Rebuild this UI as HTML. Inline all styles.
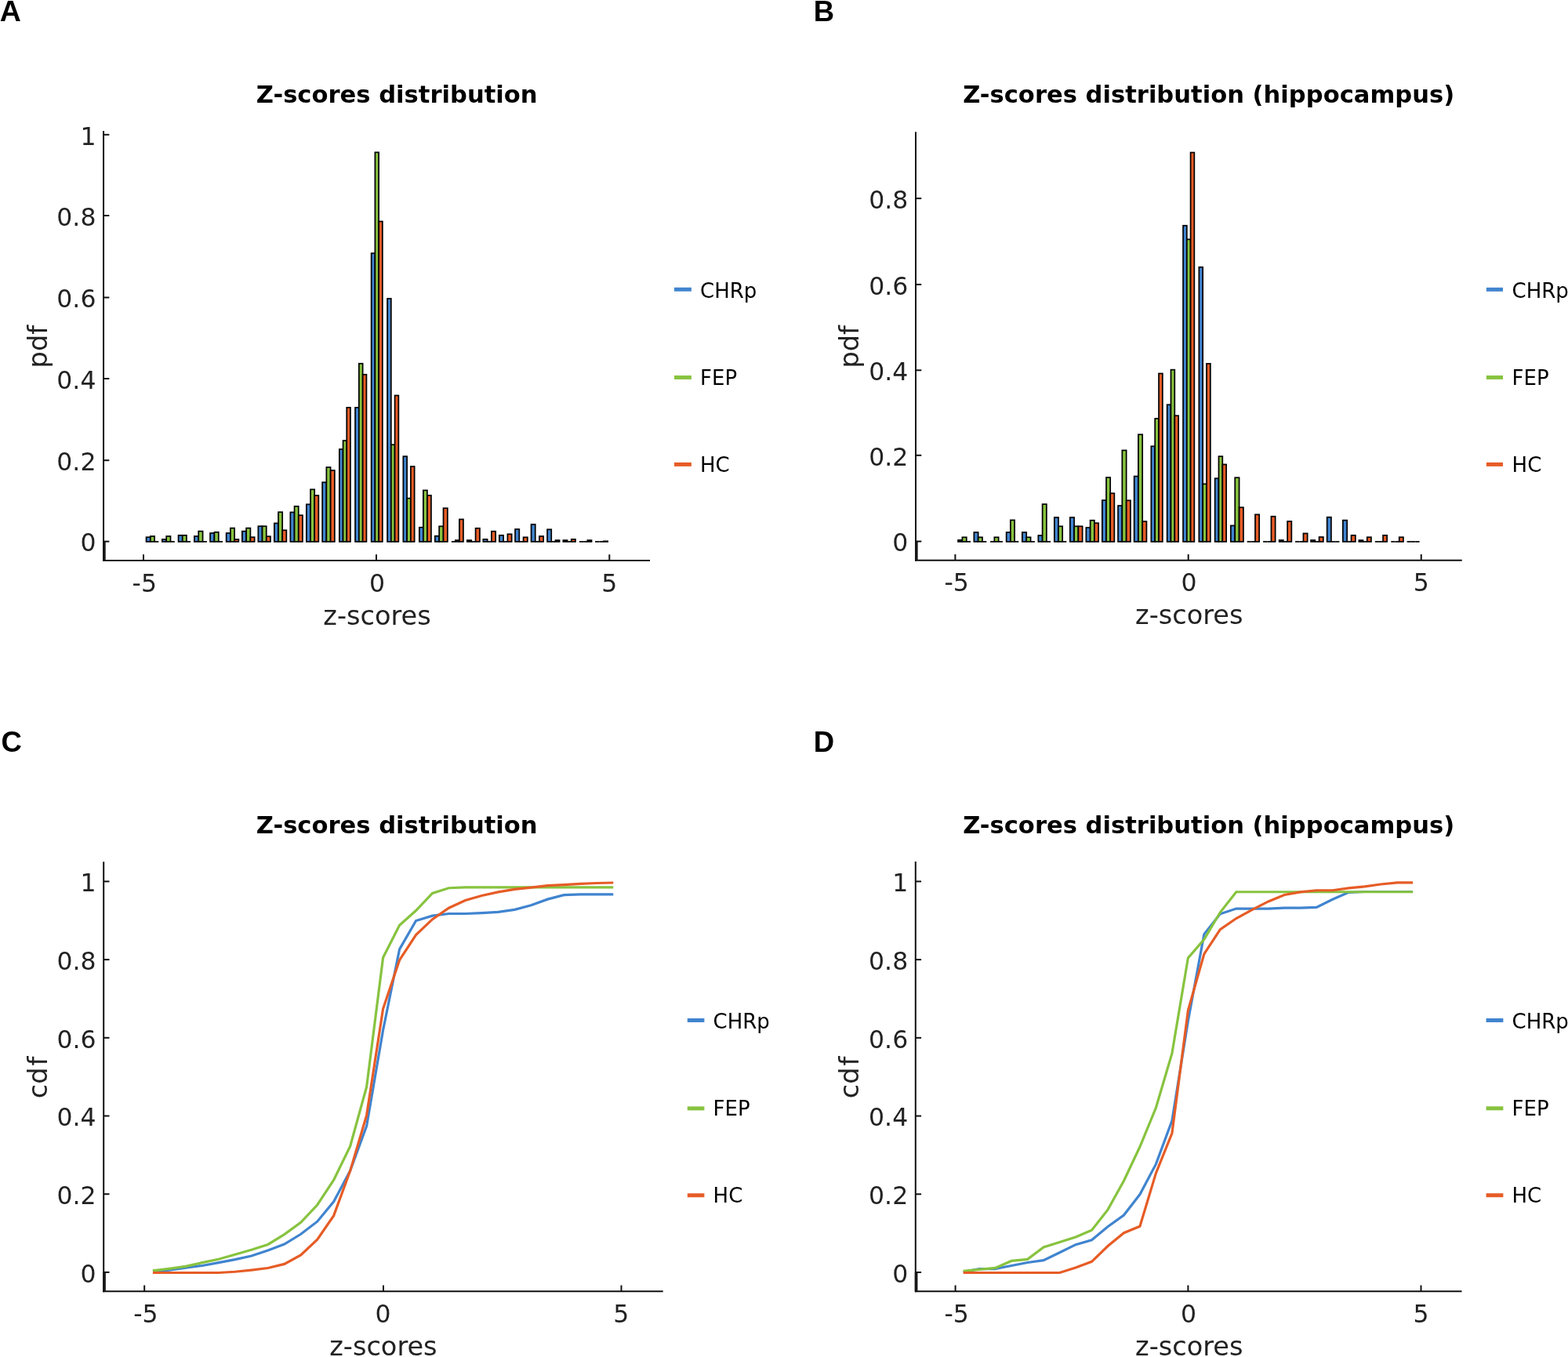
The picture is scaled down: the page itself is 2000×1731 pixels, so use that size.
<!DOCTYPE html>
<html><head><meta charset="utf-8"><title>Z-scores distribution</title>
<style>
html,body{margin:0;padding:0;background:#fff;}
body{width:2000px;height:1731px;overflow:hidden;}
svg{display:block;}
.tk{font-family:"DejaVu Sans",sans-serif;font-size:31.5px;fill:#222222;}
.lb{font-family:"DejaVu Sans",sans-serif;font-size:33.6px;fill:#222222;}
.tt{font-family:"DejaVu Sans",sans-serif;font-size:30.6px;font-weight:bold;fill:#000;}
.lg{font-family:"DejaVu Sans",sans-serif;font-size:26px;fill:#000;}
.pl{font-family:"Liberation Sans",Arial,sans-serif;font-size:36.5px;font-weight:bold;fill:#000;}
</style></head>
<body>
<svg width="2000" height="1731" viewBox="0 0 2000 1731">
<rect width="2000" height="1731" fill="#fff"/>
<text x="-0.3" y="26.9" class="pl" style="font-size:37.5px">A</text>
<text x="506.2" y="130.8" text-anchor="middle" class="tt">Z-scores distribution</text>
<rect x="186.55" y="685.25" width="5.27" height="5.75" fill="#4084cf" stroke="#000" stroke-width="1.7"/>
<rect x="191.82" y="684.05" width="5.27" height="6.95" fill="#87c33f" stroke="#000" stroke-width="1.7"/>
<line x1="197.08" y1="691" x2="202.35" y2="691" stroke="#000" stroke-width="1.7"/>
<rect x="206.85" y="688.05" width="5.33" height="2.95" fill="#4084cf" stroke="#000" stroke-width="1.7"/>
<rect x="212.18" y="684.05" width="5.33" height="6.95" fill="#87c33f" stroke="#000" stroke-width="1.7"/>
<line x1="217.52" y1="691" x2="222.85" y2="691" stroke="#000" stroke-width="1.7"/>
<rect x="227.55" y="682.85" width="5.2" height="8.15" fill="#4084cf" stroke="#000" stroke-width="1.7"/>
<rect x="232.75" y="682.85" width="5.2" height="8.15" fill="#87c33f" stroke="#000" stroke-width="1.7"/>
<line x1="237.95" y1="691" x2="243.15" y2="691" stroke="#000" stroke-width="1.7"/>
<rect x="247.85" y="684.05" width="5.37" height="6.95" fill="#4084cf" stroke="#000" stroke-width="1.7"/>
<rect x="253.22" y="677.65" width="5.37" height="13.35" fill="#87c33f" stroke="#000" stroke-width="1.7"/>
<line x1="258.58" y1="691" x2="263.95" y2="691" stroke="#000" stroke-width="1.7"/>
<rect x="268.05" y="680.05" width="5.37" height="10.95" fill="#4084cf" stroke="#000" stroke-width="1.7"/>
<rect x="273.42" y="678.85" width="5.37" height="12.15" fill="#87c33f" stroke="#000" stroke-width="1.7"/>
<line x1="278.78" y1="691" x2="284.15" y2="691" stroke="#000" stroke-width="1.7"/>
<rect x="288.65" y="680.05" width="5.23" height="10.95" fill="#4084cf" stroke="#000" stroke-width="1.7"/>
<rect x="293.88" y="673.65" width="5.23" height="17.35" fill="#87c33f" stroke="#000" stroke-width="1.7"/>
<rect x="299.12" y="688.05" width="5.23" height="2.95" fill="#e65c26" stroke="#000" stroke-width="1.7"/>
<rect x="308.85" y="677.65" width="5.27" height="13.35" fill="#4084cf" stroke="#000" stroke-width="1.7"/>
<rect x="314.12" y="673.65" width="5.27" height="17.35" fill="#87c33f" stroke="#000" stroke-width="1.7"/>
<rect x="319.38" y="685.25" width="5.27" height="5.75" fill="#e65c26" stroke="#000" stroke-width="1.7"/>
<rect x="329.35" y="671.25" width="5.2" height="19.75" fill="#4084cf" stroke="#000" stroke-width="1.7"/>
<rect x="334.55" y="671.25" width="5.2" height="19.75" fill="#87c33f" stroke="#000" stroke-width="1.7"/>
<rect x="339.75" y="684.25" width="5.2" height="6.75" fill="#e65c26" stroke="#000" stroke-width="1.7"/>
<rect x="349.85" y="667.45" width="5.17" height="23.55" fill="#4084cf" stroke="#000" stroke-width="1.7"/>
<rect x="355.02" y="653.25" width="5.17" height="37.75" fill="#87c33f" stroke="#000" stroke-width="1.7"/>
<rect x="360.18" y="676.35" width="5.17" height="14.65" fill="#e65c26" stroke="#000" stroke-width="1.7"/>
<rect x="370.35" y="653.45" width="5.2" height="37.55" fill="#4084cf" stroke="#000" stroke-width="1.7"/>
<rect x="375.55" y="645.85" width="5.2" height="45.15" fill="#87c33f" stroke="#000" stroke-width="1.7"/>
<rect x="380.75" y="657.25" width="5.2" height="33.75" fill="#e65c26" stroke="#000" stroke-width="1.7"/>
<rect x="390.85" y="643.35" width="5.17" height="47.65" fill="#4084cf" stroke="#000" stroke-width="1.7"/>
<rect x="396.02" y="624.35" width="5.17" height="66.65" fill="#87c33f" stroke="#000" stroke-width="1.7"/>
<rect x="401.18" y="632.05" width="5.17" height="58.95" fill="#e65c26" stroke="#000" stroke-width="1.7"/>
<rect x="411.15" y="615.25" width="5.23" height="75.75" fill="#4084cf" stroke="#000" stroke-width="1.7"/>
<rect x="416.38" y="596.05" width="5.23" height="94.95" fill="#87c33f" stroke="#000" stroke-width="1.7"/>
<rect x="421.62" y="600.05" width="5.23" height="90.95" fill="#e65c26" stroke="#000" stroke-width="1.7"/>
<rect x="432.85" y="573.05" width="4.7" height="117.95" fill="#4084cf" stroke="#000" stroke-width="1.7"/>
<rect x="437.55" y="562.05" width="4.7" height="128.95" fill="#87c33f" stroke="#000" stroke-width="1.7"/>
<rect x="442.25" y="519.85" width="4.7" height="171.15" fill="#e65c26" stroke="#000" stroke-width="1.7"/>
<rect x="453.05" y="519.85" width="4.8" height="171.15" fill="#4084cf" stroke="#000" stroke-width="1.7"/>
<rect x="457.85" y="463.75" width="4.8" height="227.25" fill="#87c33f" stroke="#000" stroke-width="1.7"/>
<rect x="462.65" y="477.75" width="4.8" height="213.25" fill="#e65c26" stroke="#000" stroke-width="1.7"/>
<rect x="473.65" y="323.05" width="4.73" height="367.95" fill="#4084cf" stroke="#000" stroke-width="1.7"/>
<rect x="478.38" y="194.35" width="4.73" height="496.65" fill="#87c33f" stroke="#000" stroke-width="1.7"/>
<rect x="483.12" y="282.45" width="4.73" height="408.55" fill="#e65c26" stroke="#000" stroke-width="1.7"/>
<rect x="494.05" y="380.85" width="4.77" height="310.15" fill="#4084cf" stroke="#000" stroke-width="1.7"/>
<rect x="498.82" y="567.25" width="4.77" height="123.75" fill="#87c33f" stroke="#000" stroke-width="1.7"/>
<rect x="503.58" y="504.45" width="4.77" height="186.55" fill="#e65c26" stroke="#000" stroke-width="1.7"/>
<rect x="514.35" y="582.15" width="4.77" height="108.85" fill="#4084cf" stroke="#000" stroke-width="1.7"/>
<rect x="519.12" y="635.65" width="4.77" height="55.35" fill="#87c33f" stroke="#000" stroke-width="1.7"/>
<rect x="523.88" y="595.05" width="4.77" height="95.95" fill="#e65c26" stroke="#000" stroke-width="1.7"/>
<rect x="534.85" y="672.75" width="5.03" height="18.25" fill="#4084cf" stroke="#000" stroke-width="1.7"/>
<rect x="539.88" y="625.45" width="5.03" height="65.55" fill="#87c33f" stroke="#000" stroke-width="1.7"/>
<rect x="544.92" y="631.95" width="5.03" height="59.05" fill="#e65c26" stroke="#000" stroke-width="1.7"/>
<rect x="554.85" y="683.75" width="5.33" height="7.25" fill="#4084cf" stroke="#000" stroke-width="1.7"/>
<rect x="560.18" y="671.35" width="5.33" height="19.65" fill="#87c33f" stroke="#000" stroke-width="1.7"/>
<rect x="565.52" y="648.25" width="5.33" height="42.75" fill="#e65c26" stroke="#000" stroke-width="1.7"/>
<line x1="575.85" y1="691" x2="580.88" y2="691" stroke="#000" stroke-width="1.7"/>
<rect x="580.88" y="689.15" width="5.03" height="1.85" fill="#87c33f" stroke="#000" stroke-width="1.7"/>
<rect x="585.92" y="662.45" width="5.03" height="28.55" fill="#e65c26" stroke="#000" stroke-width="1.7"/>
<rect x="595.85" y="689.15" width="5.37" height="1.85" fill="#4084cf" stroke="#000" stroke-width="1.7"/>
<line x1="601.22" y1="691" x2="606.58" y2="691" stroke="#000" stroke-width="1.7"/>
<rect x="606.58" y="673.85" width="5.37" height="17.15" fill="#e65c26" stroke="#000" stroke-width="1.7"/>
<rect x="616.35" y="687.95" width="5.27" height="3.05" fill="#4084cf" stroke="#000" stroke-width="1.7"/>
<line x1="621.62" y1="691" x2="626.88" y2="691" stroke="#000" stroke-width="1.7"/>
<rect x="626.88" y="677.75" width="5.27" height="13.25" fill="#e65c26" stroke="#000" stroke-width="1.7"/>
<rect x="636.85" y="682.85" width="5.27" height="8.15" fill="#4084cf" stroke="#000" stroke-width="1.7"/>
<line x1="642.12" y1="691" x2="647.38" y2="691" stroke="#000" stroke-width="1.7"/>
<rect x="647.38" y="681.35" width="5.27" height="9.65" fill="#e65c26" stroke="#000" stroke-width="1.7"/>
<rect x="657.05" y="675.05" width="5.27" height="15.95" fill="#4084cf" stroke="#000" stroke-width="1.7"/>
<line x1="662.32" y1="691" x2="667.58" y2="691" stroke="#000" stroke-width="1.7"/>
<rect x="667.58" y="685.35" width="5.27" height="5.65" fill="#e65c26" stroke="#000" stroke-width="1.7"/>
<rect x="677.55" y="668.95" width="5.2" height="22.05" fill="#4084cf" stroke="#000" stroke-width="1.7"/>
<line x1="682.75" y1="691" x2="687.95" y2="691" stroke="#000" stroke-width="1.7"/>
<rect x="687.95" y="684.05" width="5.2" height="6.95" fill="#e65c26" stroke="#000" stroke-width="1.7"/>
<rect x="698.05" y="675.35" width="5.2" height="15.65" fill="#4084cf" stroke="#000" stroke-width="1.7"/>
<line x1="703.25" y1="691" x2="708.45" y2="691" stroke="#000" stroke-width="1.7"/>
<rect x="708.45" y="689.15" width="5.2" height="1.85" fill="#e65c26" stroke="#000" stroke-width="1.7"/>
<rect x="718.35" y="689.15" width="5.2" height="1.85" fill="#4084cf" stroke="#000" stroke-width="1.7"/>
<line x1="723.55" y1="691" x2="728.75" y2="691" stroke="#000" stroke-width="1.7"/>
<rect x="728.75" y="687.95" width="5.2" height="3.05" fill="#e65c26" stroke="#000" stroke-width="1.7"/>
<line x1="738.85" y1="691" x2="744.08" y2="691" stroke="#000" stroke-width="1.7"/>
<line x1="744.08" y1="691" x2="749.32" y2="691" stroke="#000" stroke-width="1.7"/>
<rect x="749.32" y="689.15" width="5.23" height="1.85" fill="#e65c26" stroke="#000" stroke-width="1.7"/>
<line x1="759.05" y1="691" x2="764.42" y2="691" stroke="#000" stroke-width="1.7"/>
<line x1="764.42" y1="691" x2="769.78" y2="691" stroke="#000" stroke-width="1.7"/>
<rect x="769.78" y="690.35" width="5.37" height="0.65" fill="#e65c26" stroke="#000" stroke-width="1.7"/>
<line x1="132.05" y1="166.9" x2="132.05" y2="716" stroke="#111111" stroke-width="2"/>
<line x1="131" y1="715" x2="829" y2="715" stroke="#111111" stroke-width="2"/>
<rect x="131.05" y="690.7" width="3.65" height="24.3" fill="#161616"/>
<line x1="132.05" y1="690.7" x2="139.35" y2="690.7" stroke="#111111" stroke-width="2"/>
<text x="122.45" y="703.4" text-anchor="end" class="tk">0</text>
<line x1="132.05" y1="587.2" x2="139.35" y2="587.2" stroke="#111111" stroke-width="2"/>
<text x="122.45" y="599.9" text-anchor="end" class="tk">0.2</text>
<line x1="132.05" y1="483" x2="139.35" y2="483" stroke="#111111" stroke-width="2"/>
<text x="122.45" y="495.7" text-anchor="end" class="tk">0.4</text>
<line x1="132.05" y1="379.5" x2="139.35" y2="379.5" stroke="#111111" stroke-width="2"/>
<text x="122.45" y="392.2" text-anchor="end" class="tk">0.6</text>
<line x1="132.05" y1="275" x2="139.35" y2="275" stroke="#111111" stroke-width="2"/>
<text x="122.45" y="287.7" text-anchor="end" class="tk">0.8</text>
<line x1="132.05" y1="171.8" x2="139.35" y2="171.8" stroke="#111111" stroke-width="2"/>
<text x="122.45" y="184.5" text-anchor="end" class="tk">1</text>
<line x1="183" y1="715" x2="183" y2="707.3" stroke="#111111" stroke-width="2"/>
<text x="184.25" y="754.6" text-anchor="middle" class="tk">-5</text>
<line x1="480" y1="715" x2="480" y2="707.3" stroke="#111111" stroke-width="2"/>
<text x="481.1" y="754.6" text-anchor="middle" class="tk">0</text>
<line x1="777.3" y1="715" x2="777.3" y2="707.3" stroke="#111111" stroke-width="2"/>
<text x="777.2" y="754.6" text-anchor="middle" class="tk">5</text>
<text x="481" y="796.5" text-anchor="middle" class="lb">z-scores</text>
<text transform="translate(59.7,442.2) rotate(-90)" text-anchor="middle" class="lb">pdf</text>
<line x1="860" y1="369.2" x2="881.9" y2="369.2" stroke="#4084cf" stroke-width="5"/>
<text x="893" y="380.1" class="lg">CHRp</text>
<line x1="860" y1="481.45" x2="881.9" y2="481.45" stroke="#87c33f" stroke-width="5"/>
<text x="893" y="491" class="lg">FEP</text>
<line x1="860" y1="592.4" x2="881.9" y2="592.4" stroke="#e65c26" stroke-width="5"/>
<text x="893" y="601.9" class="lg">HC</text>
<text x="1037.7" y="26.9" class="pl">B</text>
<text x="1541.7" y="130.8" text-anchor="middle" class="tt">Z-scores distribution (hippocampus)</text>
<rect x="1222.05" y="688.95" width="5.37" height="2.05" fill="#4084cf" stroke="#000" stroke-width="1.7"/>
<rect x="1227.42" y="685.35" width="5.37" height="5.65" fill="#87c33f" stroke="#000" stroke-width="1.7"/>
<line x1="1232.78" y1="691" x2="1238.15" y2="691" stroke="#000" stroke-width="1.7"/>
<rect x="1242.35" y="679.05" width="5.33" height="11.95" fill="#4084cf" stroke="#000" stroke-width="1.7"/>
<rect x="1247.68" y="685.35" width="5.33" height="5.65" fill="#87c33f" stroke="#000" stroke-width="1.7"/>
<line x1="1253.02" y1="691" x2="1258.35" y2="691" stroke="#000" stroke-width="1.7"/>
<line x1="1263.05" y1="691" x2="1268.35" y2="691" stroke="#000" stroke-width="1.7"/>
<rect x="1268.35" y="685.35" width="5.3" height="5.65" fill="#87c33f" stroke="#000" stroke-width="1.7"/>
<line x1="1273.65" y1="691" x2="1278.95" y2="691" stroke="#000" stroke-width="1.7"/>
<rect x="1283.65" y="679.05" width="5.23" height="11.95" fill="#4084cf" stroke="#000" stroke-width="1.7"/>
<rect x="1288.88" y="663.45" width="5.23" height="27.55" fill="#87c33f" stroke="#000" stroke-width="1.7"/>
<line x1="1294.12" y1="691" x2="1299.35" y2="691" stroke="#000" stroke-width="1.7"/>
<rect x="1303.85" y="679.05" width="5.37" height="11.95" fill="#4084cf" stroke="#000" stroke-width="1.7"/>
<rect x="1309.22" y="685.35" width="5.37" height="5.65" fill="#87c33f" stroke="#000" stroke-width="1.7"/>
<line x1="1314.58" y1="691" x2="1319.95" y2="691" stroke="#000" stroke-width="1.7"/>
<rect x="1324.35" y="683.05" width="5.27" height="7.95" fill="#4084cf" stroke="#000" stroke-width="1.7"/>
<rect x="1329.62" y="643.15" width="5.27" height="47.85" fill="#87c33f" stroke="#000" stroke-width="1.7"/>
<line x1="1334.88" y1="691" x2="1340.15" y2="691" stroke="#000" stroke-width="1.7"/>
<rect x="1344.85" y="660.05" width="5.17" height="30.95" fill="#4084cf" stroke="#000" stroke-width="1.7"/>
<rect x="1350.02" y="671.35" width="5.17" height="19.65" fill="#87c33f" stroke="#000" stroke-width="1.7"/>
<line x1="1355.18" y1="691" x2="1360.35" y2="691" stroke="#000" stroke-width="1.7"/>
<rect x="1364.85" y="660.05" width="5.27" height="30.95" fill="#4084cf" stroke="#000" stroke-width="1.7"/>
<rect x="1370.12" y="671.35" width="5.27" height="19.65" fill="#87c33f" stroke="#000" stroke-width="1.7"/>
<rect x="1375.38" y="671.35" width="5.27" height="19.65" fill="#e65c26" stroke="#000" stroke-width="1.7"/>
<rect x="1385.35" y="673.05" width="5.27" height="17.95" fill="#4084cf" stroke="#000" stroke-width="1.7"/>
<rect x="1390.62" y="663.75" width="5.27" height="27.25" fill="#87c33f" stroke="#000" stroke-width="1.7"/>
<rect x="1395.88" y="667.25" width="5.27" height="23.75" fill="#e65c26" stroke="#000" stroke-width="1.7"/>
<rect x="1405.85" y="638.15" width="5.17" height="52.85" fill="#4084cf" stroke="#000" stroke-width="1.7"/>
<rect x="1411.02" y="609.05" width="5.17" height="81.95" fill="#87c33f" stroke="#000" stroke-width="1.7"/>
<rect x="1416.18" y="629.25" width="5.17" height="61.75" fill="#e65c26" stroke="#000" stroke-width="1.7"/>
<rect x="1426.05" y="645.05" width="5.3" height="45.95" fill="#4084cf" stroke="#000" stroke-width="1.7"/>
<rect x="1431.35" y="574.45" width="5.3" height="116.55" fill="#87c33f" stroke="#000" stroke-width="1.7"/>
<rect x="1436.65" y="638.35" width="5.3" height="52.65" fill="#e65c26" stroke="#000" stroke-width="1.7"/>
<rect x="1446.65" y="607.55" width="5.27" height="83.45" fill="#4084cf" stroke="#000" stroke-width="1.7"/>
<rect x="1451.92" y="554.25" width="5.27" height="136.75" fill="#87c33f" stroke="#000" stroke-width="1.7"/>
<rect x="1457.18" y="665.15" width="5.27" height="25.85" fill="#e65c26" stroke="#000" stroke-width="1.7"/>
<rect x="1468.35" y="569.25" width="4.83" height="121.75" fill="#4084cf" stroke="#000" stroke-width="1.7"/>
<rect x="1473.18" y="533.95" width="4.83" height="157.05" fill="#87c33f" stroke="#000" stroke-width="1.7"/>
<rect x="1478.02" y="476.45" width="4.83" height="214.55" fill="#e65c26" stroke="#000" stroke-width="1.7"/>
<rect x="1488.65" y="516.25" width="4.83" height="174.75" fill="#4084cf" stroke="#000" stroke-width="1.7"/>
<rect x="1493.48" y="471.65" width="4.83" height="219.35" fill="#87c33f" stroke="#000" stroke-width="1.7"/>
<rect x="1498.32" y="530.25" width="4.83" height="160.75" fill="#e65c26" stroke="#000" stroke-width="1.7"/>
<rect x="1509.05" y="287.75" width="4.77" height="403.25" fill="#4084cf" stroke="#000" stroke-width="1.7"/>
<rect x="1513.82" y="305.35" width="4.77" height="385.65" fill="#87c33f" stroke="#000" stroke-width="1.7"/>
<rect x="1518.58" y="194.55" width="4.77" height="496.45" fill="#e65c26" stroke="#000" stroke-width="1.7"/>
<rect x="1529.35" y="340.75" width="4.83" height="350.25" fill="#4084cf" stroke="#000" stroke-width="1.7"/>
<rect x="1534.18" y="617.35" width="4.83" height="73.65" fill="#87c33f" stroke="#000" stroke-width="1.7"/>
<rect x="1539.02" y="463.85" width="4.83" height="227.15" fill="#e65c26" stroke="#000" stroke-width="1.7"/>
<rect x="1549.65" y="610.25" width="4.83" height="80.75" fill="#4084cf" stroke="#000" stroke-width="1.7"/>
<rect x="1554.48" y="582.15" width="4.83" height="108.85" fill="#87c33f" stroke="#000" stroke-width="1.7"/>
<rect x="1559.32" y="592.45" width="4.83" height="98.55" fill="#e65c26" stroke="#000" stroke-width="1.7"/>
<rect x="1569.85" y="670.45" width="5.37" height="20.55" fill="#4084cf" stroke="#000" stroke-width="1.7"/>
<rect x="1575.22" y="609.25" width="5.37" height="81.75" fill="#87c33f" stroke="#000" stroke-width="1.7"/>
<rect x="1580.58" y="647.25" width="5.37" height="43.75" fill="#e65c26" stroke="#000" stroke-width="1.7"/>
<line x1="1590.65" y1="691" x2="1595.82" y2="691" stroke="#000" stroke-width="1.7"/>
<line x1="1595.82" y1="691" x2="1600.98" y2="691" stroke="#000" stroke-width="1.7"/>
<rect x="1600.98" y="656.35" width="5.17" height="34.65" fill="#e65c26" stroke="#000" stroke-width="1.7"/>
<line x1="1611.05" y1="691" x2="1616.25" y2="691" stroke="#000" stroke-width="1.7"/>
<line x1="1616.25" y1="691" x2="1621.45" y2="691" stroke="#000" stroke-width="1.7"/>
<rect x="1621.45" y="658.75" width="5.2" height="32.25" fill="#e65c26" stroke="#000" stroke-width="1.7"/>
<rect x="1631.65" y="689.05" width="5.23" height="1.95" fill="#4084cf" stroke="#000" stroke-width="1.7"/>
<line x1="1636.88" y1="691" x2="1642.12" y2="691" stroke="#000" stroke-width="1.7"/>
<rect x="1642.12" y="665.05" width="5.23" height="25.95" fill="#e65c26" stroke="#000" stroke-width="1.7"/>
<line x1="1652.05" y1="691" x2="1657.25" y2="691" stroke="#000" stroke-width="1.7"/>
<line x1="1657.25" y1="691" x2="1662.45" y2="691" stroke="#000" stroke-width="1.7"/>
<rect x="1662.45" y="680.45" width="5.2" height="10.55" fill="#e65c26" stroke="#000" stroke-width="1.7"/>
<rect x="1672.05" y="689.05" width="5.27" height="1.95" fill="#4084cf" stroke="#000" stroke-width="1.7"/>
<line x1="1677.32" y1="691" x2="1682.58" y2="691" stroke="#000" stroke-width="1.7"/>
<rect x="1682.58" y="685.05" width="5.27" height="5.95" fill="#e65c26" stroke="#000" stroke-width="1.7"/>
<rect x="1692.65" y="659.75" width="5.27" height="31.25" fill="#4084cf" stroke="#000" stroke-width="1.7"/>
<line x1="1697.92" y1="691" x2="1703.18" y2="691" stroke="#000" stroke-width="1.7"/>
<line x1="1703.18" y1="691" x2="1708.45" y2="691" stroke="#000" stroke-width="1.7"/>
<rect x="1712.85" y="663.65" width="5.33" height="27.35" fill="#4084cf" stroke="#000" stroke-width="1.7"/>
<line x1="1718.18" y1="691" x2="1723.52" y2="691" stroke="#000" stroke-width="1.7"/>
<rect x="1723.52" y="682.85" width="5.33" height="8.15" fill="#e65c26" stroke="#000" stroke-width="1.7"/>
<rect x="1733.35" y="689.15" width="5.2" height="1.85" fill="#4084cf" stroke="#000" stroke-width="1.7"/>
<line x1="1738.55" y1="691" x2="1743.75" y2="691" stroke="#000" stroke-width="1.7"/>
<rect x="1743.75" y="685.25" width="5.2" height="5.75" fill="#e65c26" stroke="#000" stroke-width="1.7"/>
<line x1="1753.85" y1="691" x2="1758.95" y2="691" stroke="#000" stroke-width="1.7"/>
<line x1="1758.95" y1="691" x2="1764.05" y2="691" stroke="#000" stroke-width="1.7"/>
<rect x="1764.05" y="682.85" width="5.1" height="8.15" fill="#e65c26" stroke="#000" stroke-width="1.7"/>
<line x1="1774.25" y1="691" x2="1779.48" y2="691" stroke="#000" stroke-width="1.7"/>
<line x1="1779.48" y1="691" x2="1784.72" y2="691" stroke="#000" stroke-width="1.7"/>
<rect x="1784.72" y="685.25" width="5.23" height="5.75" fill="#e65c26" stroke="#000" stroke-width="1.7"/>
<line x1="1794.57" y1="691" x2="1799.92" y2="691" stroke="#000" stroke-width="1.7"/>
<line x1="1799.92" y1="691" x2="1805.27" y2="691" stroke="#000" stroke-width="1.7"/>
<line x1="1805.27" y1="691" x2="1810.62" y2="691" stroke="#000" stroke-width="1.7"/>
<line x1="1168" y1="168.2" x2="1168" y2="715.75" stroke="#111111" stroke-width="2"/>
<line x1="1167" y1="714.75" x2="1864.75" y2="714.75" stroke="#111111" stroke-width="2"/>
<rect x="1167" y="690.6" width="3.65" height="24.15" fill="#161616"/>
<line x1="1168" y1="690.6" x2="1175.3" y2="690.6" stroke="#111111" stroke-width="2"/>
<text x="1158.4" y="703.3" text-anchor="end" class="tk">0</text>
<line x1="1168" y1="580.8" x2="1175.3" y2="580.8" stroke="#111111" stroke-width="2"/>
<text x="1158.4" y="593.5" text-anchor="end" class="tk">0.2</text>
<line x1="1168" y1="472.3" x2="1175.3" y2="472.3" stroke="#111111" stroke-width="2"/>
<text x="1158.4" y="485" text-anchor="end" class="tk">0.4</text>
<line x1="1168" y1="362.9" x2="1175.3" y2="362.9" stroke="#111111" stroke-width="2"/>
<text x="1158.4" y="375.6" text-anchor="end" class="tk">0.6</text>
<line x1="1168" y1="253.1" x2="1175.3" y2="253.1" stroke="#111111" stroke-width="2"/>
<text x="1158.4" y="265.8" text-anchor="end" class="tk">0.8</text>
<line x1="1218.4" y1="714.75" x2="1218.4" y2="707.05" stroke="#111111" stroke-width="2"/>
<text x="1220.2" y="754.35" text-anchor="middle" class="tk">-5</text>
<line x1="1515.7" y1="714.75" x2="1515.7" y2="707.05" stroke="#111111" stroke-width="2"/>
<text x="1516.45" y="754.35" text-anchor="middle" class="tk">0</text>
<line x1="1812.75" y1="714.75" x2="1812.75" y2="707.05" stroke="#111111" stroke-width="2"/>
<text x="1812.7" y="754.35" text-anchor="middle" class="tk">5</text>
<text x="1516.8" y="796.2" text-anchor="middle" class="lb">z-scores</text>
<text transform="translate(1095.3,442.3) rotate(-90)" text-anchor="middle" class="lb">pdf</text>
<line x1="1895.9" y1="369.3" x2="1917" y2="369.3" stroke="#4084cf" stroke-width="5"/>
<text x="1928.6" y="379.9" class="lg">CHRp</text>
<line x1="1895.9" y1="481.45" x2="1917" y2="481.45" stroke="#87c33f" stroke-width="5"/>
<text x="1928.6" y="491" class="lg">FEP</text>
<line x1="1895.9" y1="592.4" x2="1917" y2="592.4" stroke="#e65c26" stroke-width="5"/>
<text x="1928.6" y="601.9" class="lg">HC</text>
<text x="1.5" y="959.1" class="pl">C</text>
<text x="506.2" y="1063.1" text-anchor="middle" class="tt">Z-scores distribution</text>
<line x1="132.2" y1="1099.2" x2="132.2" y2="1648.2" stroke="#111111" stroke-width="2"/>
<line x1="131.2" y1="1647.2" x2="845.7" y2="1647.2" stroke="#111111" stroke-width="2"/>
<rect x="131.2" y="1622.9" width="3.65" height="24.3" fill="#161616"/>
<line x1="132.2" y1="1622.9" x2="139.5" y2="1622.9" stroke="#111111" stroke-width="2"/>
<text x="122.6" y="1635.6" text-anchor="end" class="tk">0</text>
<line x1="132.2" y1="1523.2" x2="139.5" y2="1523.2" stroke="#111111" stroke-width="2"/>
<text x="122.6" y="1535.9" text-anchor="end" class="tk">0.2</text>
<line x1="132.2" y1="1423.5" x2="139.5" y2="1423.5" stroke="#111111" stroke-width="2"/>
<text x="122.6" y="1436.2" text-anchor="end" class="tk">0.4</text>
<line x1="132.2" y1="1323.8" x2="139.5" y2="1323.8" stroke="#111111" stroke-width="2"/>
<text x="122.6" y="1336.5" text-anchor="end" class="tk">0.6</text>
<line x1="132.2" y1="1224.1" x2="139.5" y2="1224.1" stroke="#111111" stroke-width="2"/>
<text x="122.6" y="1236.8" text-anchor="end" class="tk">0.8</text>
<line x1="132.2" y1="1124.4" x2="139.5" y2="1124.4" stroke="#111111" stroke-width="2"/>
<text x="122.6" y="1137.1" text-anchor="end" class="tk">1</text>
<line x1="184.2" y1="1647.2" x2="184.2" y2="1639.5" stroke="#111111" stroke-width="2"/>
<text x="185.9" y="1686.8" text-anchor="middle" class="tk">-5</text>
<line x1="489" y1="1647.2" x2="489" y2="1639.5" stroke="#111111" stroke-width="2"/>
<text x="488.5" y="1686.8" text-anchor="middle" class="tk">0</text>
<line x1="792.5" y1="1647.2" x2="792.5" y2="1639.5" stroke="#111111" stroke-width="2"/>
<text x="792.15" y="1686.8" text-anchor="middle" class="tk">5</text>
<polyline points="194.94,1621.31 215.91,1620.05 236.89,1617.07 257.87,1614.48 278.84,1610.57 299.82,1606.65 320.79,1601.94 341.77,1595.11 362.74,1587.02 383.72,1574.28 404.7,1558.2 425.67,1532.79 446.65,1493.39 467.62,1436.35 488.6,1314.03 509.58,1210.89 530.55,1174.51 551.53,1168.17 572.5,1165.49 593.48,1165.49 614.46,1164.59 635.43,1163.3 656.41,1160.31 677.38,1154.74 698.36,1147.14 719.33,1141.67 740.31,1140.78 761.29,1140.78 782.26,1140.78" fill="none" stroke="#4084cf" stroke-width="3.2" stroke-linejoin="miter"/>
<polyline points="194.94,1620.91 215.91,1618.33 236.89,1615.34 257.87,1610.63 278.84,1606.32 299.82,1600.28 320.79,1594.25 341.77,1587.42 362.74,1574.61 383.72,1559.36 404.7,1536.97 425.67,1505.2 446.65,1462.15 467.62,1386.5 488.6,1221.5 509.58,1180.18 530.55,1161.54 551.53,1139.52 572.5,1132.72 593.48,1131.82 614.46,1131.82 635.43,1131.82 656.41,1131.82 677.38,1131.82 698.36,1131.82 719.33,1131.82 740.31,1131.82 761.29,1131.82 782.26,1131.82" fill="none" stroke="#87c33f" stroke-width="3.2" stroke-linejoin="miter"/>
<polyline points="194.94,1623.5 215.91,1623.5 236.89,1623.5 257.87,1623.5 278.84,1623.5 299.82,1622.24 320.79,1620.05 341.77,1617.53 362.74,1612.39 383.72,1600.91 404.7,1581.08 425.67,1550.64 446.65,1493.59 467.62,1422.58 488.6,1286.8 509.58,1224.65 530.55,1192.55 551.53,1172.68 572.5,1158.22 593.48,1148.47 614.46,1142.5 635.43,1137.83 656.41,1134.34 677.38,1132.19 698.36,1129.6 719.33,1128.7 740.31,1127.41 761.29,1126.52 782.26,1126.02" fill="none" stroke="#e65c26" stroke-width="3.2" stroke-linejoin="miter"/>
<text x="488.9" y="1728.7" text-anchor="middle" class="lb">z-scores</text>
<text transform="translate(59.6,1374.5) rotate(-90)" text-anchor="middle" class="lb">cd<tspan dx="2">f</tspan></text>
<line x1="876.8" y1="1301.5" x2="898.4" y2="1301.5" stroke="#4084cf" stroke-width="5"/>
<text x="909.6" y="1312.4" class="lg">CHRp</text>
<line x1="876.8" y1="1413.9" x2="898.4" y2="1413.9" stroke="#87c33f" stroke-width="5"/>
<text x="909.6" y="1423.4" class="lg">FEP</text>
<line x1="876.8" y1="1524.75" x2="898.4" y2="1524.75" stroke="#e65c26" stroke-width="5"/>
<text x="909.6" y="1534.1" class="lg">HC</text>
<text x="1037.7" y="959.1" class="pl">D</text>
<text x="1541.7" y="1063.1" text-anchor="middle" class="tt">Z-scores distribution (hippocampus)</text>
<line x1="1167.8" y1="1099.1" x2="1167.8" y2="1648.2" stroke="#111111" stroke-width="2"/>
<line x1="1167" y1="1647.2" x2="1864.5" y2="1647.2" stroke="#111111" stroke-width="2"/>
<rect x="1166.8" y="1623" width="3.65" height="24.2" fill="#161616"/>
<line x1="1167.8" y1="1623" x2="1175.1" y2="1623" stroke="#111111" stroke-width="2"/>
<text x="1158.2" y="1635.7" text-anchor="end" class="tk">0</text>
<line x1="1167.8" y1="1523.28" x2="1175.1" y2="1523.28" stroke="#111111" stroke-width="2"/>
<text x="1158.2" y="1535.98" text-anchor="end" class="tk">0.2</text>
<line x1="1167.8" y1="1423.56" x2="1175.1" y2="1423.56" stroke="#111111" stroke-width="2"/>
<text x="1158.2" y="1436.26" text-anchor="end" class="tk">0.4</text>
<line x1="1167.8" y1="1323.84" x2="1175.1" y2="1323.84" stroke="#111111" stroke-width="2"/>
<text x="1158.2" y="1336.54" text-anchor="end" class="tk">0.6</text>
<line x1="1167.8" y1="1224.12" x2="1175.1" y2="1224.12" stroke="#111111" stroke-width="2"/>
<text x="1158.2" y="1236.82" text-anchor="end" class="tk">0.8</text>
<line x1="1167.8" y1="1124.4" x2="1175.1" y2="1124.4" stroke="#111111" stroke-width="2"/>
<text x="1158.2" y="1137.1" text-anchor="end" class="tk">1</text>
<line x1="1218.6" y1="1647.2" x2="1218.6" y2="1639.5" stroke="#111111" stroke-width="2"/>
<text x="1220.1" y="1686.8" text-anchor="middle" class="tk">-5</text>
<line x1="1515.4" y1="1647.2" x2="1515.4" y2="1639.5" stroke="#111111" stroke-width="2"/>
<text x="1516.1" y="1686.8" text-anchor="middle" class="tk">0</text>
<line x1="1812.5" y1="1647.2" x2="1812.5" y2="1639.5" stroke="#111111" stroke-width="2"/>
<text x="1812.5" y="1686.8" text-anchor="middle" class="tk">5</text>
<polyline points="1228.69,1622.59 1249.17,1618.55 1269.65,1618.55 1290.13,1614.52 1310.61,1610.49 1331.09,1607.71 1351.57,1597.69 1372.04,1587.67 1392.52,1581.75 1413,1564.82 1433.48,1550.08 1453.96,1523.51 1474.44,1484.88 1494.92,1429.54 1515.4,1302.2 1535.88,1191.56 1556.36,1165.85 1576.84,1159.1 1597.32,1159.1 1617.8,1159.1 1638.28,1158.22 1658.76,1158.22 1679.23,1157.34 1699.71,1147.22 1720.19,1138.34 1740.67,1137.49 1761.15,1137.49 1781.63,1137.49 1802.11,1137.49" fill="none" stroke="#4084cf" stroke-width="3.2" stroke-linejoin="miter"/>
<polyline points="1228.69,1621.45 1249.17,1619.4 1269.65,1617.36 1290.13,1608.41 1310.61,1606.36 1331.09,1591.01 1351.57,1584.55 1372.04,1578.09 1392.52,1569.24 1413,1543.14 1433.48,1506.15 1453.96,1462.79 1474.44,1413.03 1494.92,1343.64 1515.4,1221.84 1535.88,1198.37 1556.36,1163.8 1576.84,1137.77 1597.32,1137.77 1617.8,1137.77 1638.28,1137.77 1658.76,1137.77 1679.23,1137.77 1699.71,1137.77 1720.19,1137.77 1740.67,1137.77 1761.15,1137.77 1781.63,1137.77 1802.11,1137.77" fill="none" stroke="#87c33f" stroke-width="3.2" stroke-linejoin="miter"/>
<polyline points="1228.69,1623.5 1249.17,1623.5 1269.65,1623.5 1290.13,1623.5 1310.61,1623.5 1331.09,1623.5 1351.57,1623.5 1372.04,1617.04 1392.52,1609.29 1413,1589.56 1433.48,1572.7 1453.96,1564.29 1474.44,1496.41 1494.92,1445.49 1515.4,1288.78 1535.88,1216.93 1556.36,1185.61 1576.84,1171.55 1597.32,1160.36 1617.8,1149.93 1638.28,1141.49 1658.76,1137.9 1679.23,1135.75 1699.71,1135.75 1720.19,1132.92 1740.67,1130.84 1761.15,1128 1781.63,1125.92 1802.11,1125.92" fill="none" stroke="#e65c26" stroke-width="3.2" stroke-linejoin="miter"/>
<text x="1516.8" y="1728.6" text-anchor="middle" class="lb">z-scores</text>
<text transform="translate(1095.2,1374.5) rotate(-90)" text-anchor="middle" class="lb">cd<tspan dx="2">f</tspan></text>
<line x1="1895.6" y1="1301.5" x2="1917.4" y2="1301.5" stroke="#4084cf" stroke-width="5"/>
<text x="1928.5" y="1312.4" class="lg">CHRp</text>
<line x1="1895.6" y1="1413.8" x2="1917.4" y2="1413.8" stroke="#87c33f" stroke-width="5"/>
<text x="1928.5" y="1423.4" class="lg">FEP</text>
<line x1="1895.6" y1="1524.7" x2="1917.4" y2="1524.7" stroke="#e65c26" stroke-width="5"/>
<text x="1928.5" y="1534.1" class="lg">HC</text>
</svg>
</body></html>
